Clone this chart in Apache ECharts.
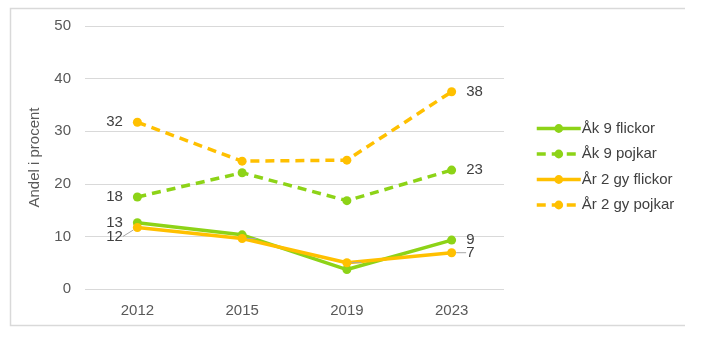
<!DOCTYPE html>
<html><head><meta charset="utf-8">
<script src="https://cdn.jsdelivr.net/npm/echarts@6/dist/echarts.min.js"></script>
<style>html,body{margin:0;padding:0;background:#fff}#c{width:709px;height:346px}</style>
</head><body><div id="c"></div>
<script>
const categories = ['2012', '2015', '2019', '2023'];
const ak9Flickor = [12.6, 10.3, 3.7, 9.3];
const ak9Pojkar = [17.5, 22.1, 16.8, 22.6];
const ar2Flickor = [11.7, 9.6, 5.0, 6.9];
const ar2Pojkar = [31.7, 24.3, 24.5, 37.5];
const seriesNames = ['Åk 9 flickor', 'Åk 9 pojkar', 'År 2 gy flickor', 'År 2 gy pojkar'];
const yTicks = { min: 0, max: 50, interval: 10 };

const GREEN = '#8DD317', ORANGE = '#FFC000';
const font = 'Liberation Sans, Arial, sans-serif';

function mk(name, data, color, dashed, shiftFirst) {
  return {
    name, type: 'line',
    data: data.map((v, i) => ({
      value: v,
      label: { position: i === 0 ? 'left' : 'right' }
    })),
    symbol: 'circle', symbolSize: 9,
    lineStyle: { color, width: 3.5, type: dashed ? [9, 6] : 'solid' },
    itemStyle: { color },
    label: {
      show: true, fontFamily: font, fontSize: 15, color: '#404040',
      formatter: p => (p.dataIndex === 0 || p.dataIndex === data.length - 1) ? Math.round(p.value) : '',
      distance: 10
    },
    labelLayout: shiftFirst ? (p => p.dataIndex === 0 ? { dy: shiftFirst } : {}) : undefined,
    labelLine: shiftFirst ? { show: true, length2: 0, lineStyle: { color: '#a6a6a6', width: 1 } } : undefined,
    z: 3
  };
}

const chart = echarts.init(document.getElementById('c'));
chart.setOption({
  animation: false,
  textStyle: { fontFamily: font },
  graphic: [{
    type: 'polyline', shape: { points: [[685, 8.5], [10.5, 8.5], [10.5, 325.5], [685, 325.5]] },
    style: { stroke: '#d9d9d9', lineWidth: 1.5, fill: null }, silent: true
  }],
  grid: { left: 85, right: 205, top: 26, bottom: 57 },
  legend: {
    orient: 'vertical', left: 530, top: 116, itemWidth: 44, itemHeight: 11, itemGap: 10.5,
    lineStyle: { width: 3.5 },
    textStyle: { fontFamily: font, fontSize: 15, color: '#404040', padding: [0, 0, 0, -4] },
    data: seriesNames
  },
  xAxis: {
    type: 'category', data: categories, boundaryGap: true,
    axisLine: { show: false }, axisTick: { show: false },
    axisLabel: { fontSize: 15, color: '#595959', margin: 14, fontFamily: font }
  },
  yAxis: {
    type: 'value', min: yTicks.min, max: yTicks.max, interval: yTicks.interval,
    name: 'Andel i procent', nameLocation: 'middle', nameGap: 43, nameRotate: 90,
    nameTextStyle: { fontSize: 15, color: '#595959', fontFamily: font },
    axisLabel: { fontSize: 15, color: '#595959', margin: 14, fontFamily: font },
    splitLine: { lineStyle: { color: '#d9d9d9', width: 1 } }
  },
  series: [
    mk(seriesNames[0], ak9Flickor, GREEN, false, 0),
    mk(seriesNames[1], ak9Pojkar, GREEN, true, 0),
    mk(seriesNames[2], ar2Flickor, ORANGE, false, 9),
    mk(seriesNames[3], ar2Pojkar, ORANGE, true, 0)
  ]
});
</script></body></html>
